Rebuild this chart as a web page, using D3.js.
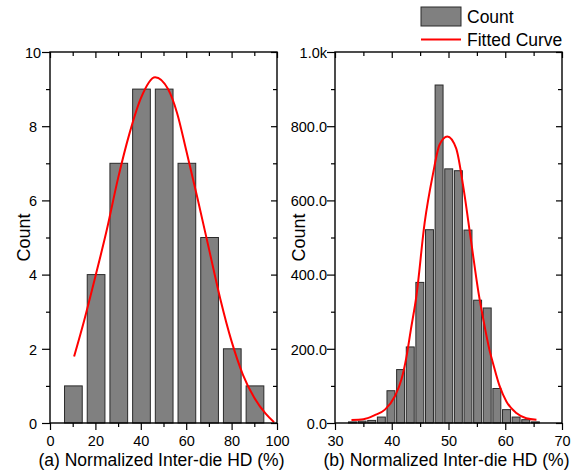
<!DOCTYPE html>
<html><head><meta charset="utf-8">
<script src="https://cdn.jsdelivr.net/npm/d3@7"></script>
<style>
body{margin:0;background:#fff}
svg text{font-family:"Liberation Sans",Arial,sans-serif;fill:#000}
</style>
</head><body>
<svg id="chart" width="582" height="471"></svg>
<script>
// ---- Panel (a) data ----
const binCentersA = [10.3, 20.3, 30.3, 40.3, 50.3, 60.3, 70.3, 80.3, 90.3];
const countsA = [1, 4, 7, 9, 9, 7, 5, 2, 1];
const fitXA = [10.6, 15, 20, 25, 30, 35, 40, 46.3, 52, 56, 60, 65, 70, 75, 80, 85, 90, 95, 98.7];
const fitYA = [1.79, 2.75, 3.95, 5.2, 6.6, 7.8, 8.75, 9.32, 9.0, 8.35, 7.35, 6.05, 4.7, 3.35, 2.2, 1.3, 0.68, 0.25, 0.02];
const xMajorA = [0, 20, 40, 60, 80, 100];
const xMinorA = [10, 30, 50, 70, 90];
const yMajorA = [0, 2, 4, 6, 8, 10];
const yMinorA = [1, 3, 5, 7, 9];

// ---- Panel (b) data ----
const binCentersB = [33.08, 34.78, 36.47, 38.17, 39.86, 41.56, 43.26, 44.95, 46.65, 48.34,
                     50.04, 51.74, 53.43, 55.13, 56.82, 58.52, 60.22, 61.91, 63.61, 65.31];
const countsB = [3, 5, 7, 16, 87, 144, 205, 379, 521, 911, 685, 680, 520, 331, 310, 93, 36, 16, 9, 3];
const fitXB = [32.9, 35, 37, 38.8, 40.55, 41.7, 42.6, 43.36, 44.33, 45.8, 47.25, 48.42, 49.8,
               51.35, 52.51, 53.98, 55.3, 56.07, 57.25, 57.83, 59, 60.2, 61.95, 63.7, 65.5];
const fitYB = [8, 10, 21, 36, 72, 117, 179, 251, 341, 540, 670, 750, 772,
               740, 646, 490, 350, 285, 195, 162, 100, 58, 27, 13, 9];
const xMajorB = [30, 40, 50, 60, 70];
const xMinorB = [35, 45, 55, 65];
const yMajorB = [0, 200, 400, 600, 800, 1000];
const yMinorB = [100, 300, 500, 700, 900];
const yLabelsB = ["0.0", "200.0", "400.0", "600.0", "800.0", "1.0k"];

const legendLabels = ["Count", "Fitted Curve"];
const BAR_FILL = "#808080", BAR_STROKE = "#2a2a2a", FIT_COLOR = "#ff0000";

const svg = d3.select("#chart");
svg.append("rect").attr("width", 582).attr("height", 471).attr("fill", "#fff");

function panel(o) {
  const x = d3.scaleLinear().domain(o.xDomain).range([o.left, o.right]);
  const y = d3.scaleLinear().domain(o.yDomain).range([o.bottom, o.top]);
  const g = svg.append("g");

  // bars
  g.selectAll("rect.bar").data(o.centers.map((c, i) => ({c, v: o.counts[i]})))
    .join("rect").attr("class", "bar")
    .attr("x", d => x(d.c - o.barW / 2))
    .attr("width", d => x(d.c + o.barW / 2) - x(d.c - o.barW / 2))
    .attr("y", d => y(d.v))
    .attr("height", d => y(0) - y(d.v))
    .attr("fill", BAR_FILL).attr("stroke", BAR_STROKE).attr("stroke-width", 1);

  // fitted curve
  const line = d3.line().x(d => x(d[0])).y(d => y(d[1])).curve(d3.curveMonotoneX);
  g.append("path").datum(o.fitX.map((v, i) => [v, o.fitY[i]]))
    .attr("d", line).attr("fill", "none").attr("stroke", FIT_COLOR).attr("stroke-width", 2);

  // axes
  const fs = "14.5px";
  const bottomMaj = g.append("g").attr("transform", `translate(0,${o.bottom})`)
    .call(d3.axisBottom(x).tickValues(o.xMajor).tickSize(7).tickPadding(4).tickFormat(d3.format("d")));
  bottomMaj.selectAll("text").attr("font-size", fs).attr("dy", null).attr("y", 23);
  g.append("g").attr("transform", `translate(0,${o.bottom})`)
    .call(d3.axisBottom(x).tickValues(o.xMinor).tickSize(4).tickFormat(""));
  g.append("g").attr("transform", `translate(0,${o.top})`)
    .call(d3.axisTop(x).tickValues(o.xMajor).tickSize(-6).tickFormat(""));
  g.append("g").attr("transform", `translate(0,${o.top})`)
    .call(d3.axisTop(x).tickValues(o.xMinor).tickSize(-4).tickFormat(""));

  const leftMaj = g.append("g").attr("transform", `translate(${o.left},0)`)
    .call(d3.axisLeft(y).tickValues(o.yMajor).tickSize(8).tickPadding(3).tickFormat(o.yFormat));
  leftMaj.selectAll("text").attr("font-size", fs).attr("dy", "0.36em");
  if (o.yLabelCenter !== undefined) {
    leftMaj.selectAll("text").attr("text-anchor", "middle").attr("x", o.yLabelCenter - o.left);
  } else {
    leftMaj.selectAll("text").attr("x", o.yLabelRight - o.left);
  }
  g.append("g").attr("transform", `translate(${o.left},0)`)
    .call(d3.axisLeft(y).tickValues(o.yMinor).tickSize(4).tickFormat(""));
  g.append("g").attr("transform", `translate(${o.right},0)`)
    .call(d3.axisRight(y).tickValues(o.yMajor).tickSize(-6).tickFormat(""));
  g.append("g").attr("transform", `translate(${o.right},0)`)
    .call(d3.axisRight(y).tickValues(o.yMinor).tickSize(-4).tickFormat(""));

  g.selectAll(".domain").remove();
  g.selectAll(".tick line").attr("stroke", "#000").attr("stroke-width", 1.2);

  // frame
  g.append("rect").attr("x", o.left).attr("y", o.top)
    .attr("width", o.right - o.left).attr("height", o.bottom - o.top)
    .attr("fill", "none").attr("stroke", "#000").attr("stroke-width", 1.4);

  // titles
  g.append("text").attr("x", (o.left + o.right) / 2 - 2).attr("y", 465.5)
    .attr("text-anchor", "middle").attr("font-size", "17.5px").text(o.xTitle);
  g.append("text").attr("transform", `translate(${o.yTitleX},${(o.top + o.bottom) / 2}) rotate(-90)`)
    .attr("text-anchor", "middle").attr("font-size", "18px").text("Count");
}

panel({
  left: 50, right: 277, top: 52, bottom: 423,
  xDomain: [0, 100], yDomain: [0, 10],
  centers: binCentersA, counts: countsA, barW: 7.8,
  fitX: fitXA, fitY: fitYA,
  xMajor: xMajorA, xMinor: xMinorA, yMajor: yMajorA, yMinor: yMinorA,
  yFormat: d3.format("d"), yLabelCenter: 33,
  xTitle: "(a) Normalized Inter-die HD (%)", yTitleX: 30
});

panel({
  left: 335, right: 562, top: 52, bottom: 423,
  xDomain: [30, 70], yDomain: [0, 1000],
  centers: binCentersB, counts: countsB, barW: 1.4,
  fitX: fitXB, fitY: fitYB,
  xMajor: xMajorB, xMinor: xMinorB, yMajor: yMajorB, yMinor: yMinorB,
  yFormat: (d, i) => yLabelsB[yMajorB.indexOf(d)], yLabelRight: 327,
  xTitle: "(b) Normalized Inter-die HD (%)", yTitleX: 305
});

// legend
const lg = svg.append("g");
lg.append("rect").attr("x", 421).attr("y", 7).attr("width", 40).attr("height", 19)
  .attr("fill", BAR_FILL).attr("stroke", BAR_STROKE).attr("stroke-width", 1);
lg.append("text").attr("x", 467).attr("y", 23).attr("font-size", "17.5px").text(legendLabels[0]);
lg.append("line").attr("x1", 421).attr("x2", 461).attr("y1", 39.5).attr("y2", 39.5)
  .attr("stroke", FIT_COLOR).attr("stroke-width", 2);
lg.append("text").attr("x", 467).attr("y", 45.5).attr("font-size", "17.5px").text(legendLabels[1]);
</script>
</body></html>
